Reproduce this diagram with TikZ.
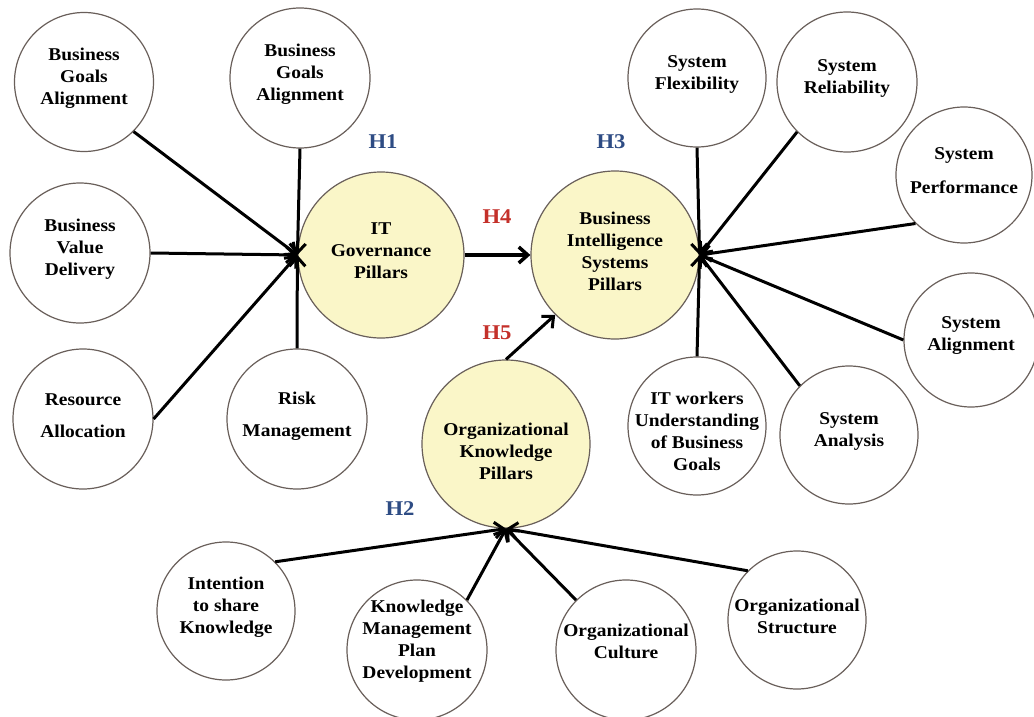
\documentclass[tikz,border=0pt]{standalone}
\usepackage{fontspec}
\setmainfont{Liberation Serif}[FakeStretch=1.08]
\usetikzlibrary{arrows.meta}

\definecolor{rimgray}{RGB}{105,95,90}
\definecolor{pillarfill}{RGB}{250,246,200}
\definecolor{hblue}{RGB}{46,76,132}
\definecolor{hred}{RGB}{196,48,42}

\tikzset{
  bub/.style={circle, draw=rimgray, line width=1.2pt, fill=white, inner sep=0pt, minimum size=#1},
  bub/.default=139pt,
  pillar/.style={bub=#1, fill=pillarfill},
  txt/.style={align=center, inner sep=0pt, font=\bfseries\fontsize{18}{22}\selectfont, yshift=4pt},
  hyp/.style={font=\bfseries\fontsize{21}{24}\selectfont, inner sep=0pt},
  link/.style={line width=3pt, -{Straight Barb[length=9pt,width=16pt]}},
}

\begin{document}
\begin{tikzpicture}[x=1pt, y=-1pt]
\useasboundingbox (0,0) rectangle (1034,717);

% IT governance drivers
\node[bub, label={[txt]center:{Business\\Goals\\Alignment}}] (bga1) at (84,82) {};
\node[bub=140pt, label={[txt]center:{Business\\Goals\\Alignment}}] (bga2) at (300,78) {};
\node[bub=140pt, label={[txt]center:{Business\\Value\\Delivery}}] (bvd) at (80,253) {};
\node[bub=140pt, label={[txt,yshift=-1pt]center:{Resource\\[10pt]Allocation}}] (ra) at (83,419) {};
\node[bub=140pt, label={[txt,yshift=-1pt]center:{Risk\\[10pt]Management}}] (rm) at (297,419) {};

% the three pillars
\node[pillar=166pt, label={[txt]center:{IT\\Governance\\Pillars}}] (itg) at (381,255) {};
\node[pillar=168pt, label={[txt]center:{Business\\Intelligence\\Systems\\Pillars}}] (bis) at (615,255) {};
\node[pillar=168pt, label={[txt,yshift=-11pt]center:{Organizational\\Knowledge\\Pillars}}] (okp) at (506,444) {};

% BI system measures
\node[bub=138pt, label={[txt]center:{System\\Flexibility}}] (sf) at (697,78) {};
\node[bub=140pt, label={[txt]center:{System\\Reliability}}] (sr) at (847,82) {};
\node[bub=136pt, label={[txt,yshift=0pt]center:{System\\[12pt]Performance}}] (sp) at (964,175) {};
\node[bub=134pt, label={[txt]center:{System\\Alignment}}] (sa) at (971,340) {};
\node[bub=138pt, label={[txt]center:{System\\Analysis}}] (san) at (849,435) {};
\node[bub=138pt, label={[txt,yshift=-9pt]center:{IT workers\\Understanding\\of Business\\Goals}}] (itw) at (697,426) {};

% organizational knowledge drivers
\node[bub=138pt, label={[txt]center:{Intention\\to share\\Knowledge}}] (ik) at (226,611) {};
\node[bub=140pt, label={[txt,yshift=5pt]center:{Knowledge\\Management\\Plan\\Development}}] (kmpd) at (417,650) {};
\node[bub=140pt, label={[txt,yshift=5pt]center:{Organizational\\Culture}}] (oc) at (626,650) {};
\node[bub=138pt, label={[txt]center:{Organizational\\Structure}}] (os) at (797,620) {};

% hypothesis labels
\node[hyp, text=hblue] (h1) at (383,142) {H1};
\node[hyp, text=hblue] (h3) at (611,142) {H3};
\node[hyp, text=hblue] (h2) at (400,509) {H2};
\node[hyp, text=hred]  (h4) at (497,217) {H4};
\node[hyp, text=hred]  (h5) at (497,333) {H5};

% connectors into IT governance
\draw[link] (bga1.-45) -- (itg.west);
\draw[link] (bga2.south) -- (itg.west);
\draw[link] (bvd.east) -- (itg.west);
\draw[link] (ra.east) -- (itg.west);
\draw[link] (rm.north) -- (itg.west);

% connectors into BI systems
\draw[link] (sf.south) -- (bis.east);
\draw[link] (sr.225) -- (bis.east);
\draw[link] (sp.225) -- (bis.east);
\draw[link] (sa.west) -- (bis.east);
\draw[link] (san.135) -- (bis.east);
\draw[link] (itw.north) -- (bis.east);

% connectors into organizational knowledge
\draw[link] (ik.45) -- (okp.south);
\draw[link] (kmpd.45) -- (okp.south);
\draw[link] (oc.135) -- (okp.south);
\draw[link] (os.135) -- (okp.south);

% pillar to pillar
\draw[link, line width=3.5pt] (itg.east) -- (bis.west);
\draw[link] (okp.north) -- (bis.225);
\end{tikzpicture}
\end{document}
